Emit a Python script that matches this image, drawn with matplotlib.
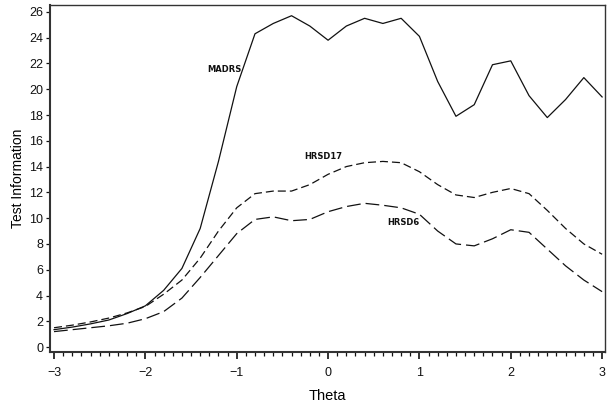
"""
Test information curves for MADRS, HRSD17 and HRSD6 over theta
"""

import numpy as np
import matplotlib.pyplot as plt
from matplotlib.ticker import MultipleLocator

plt.rcParams['font.family'] = ['Liberation Sans', 'DejaVu Sans']

# values, at theta steps of 0.2
theta = [-3.0, -2.8, -2.6, -2.4, -2.2, -2.0, -1.8, -1.6, -1.4, -1.2, -1.0,
         -0.8, -0.6, -0.4, -0.2, 0.0, 0.2, 0.4, 0.6, 0.8, 1.0,
         1.2, 1.4, 1.6, 1.8, 2.0, 2.2, 2.4, 2.6, 2.8, 3.0]

madrs = [1.35, 1.55, 1.8, 2.1, 2.6, 3.2, 4.4, 6.1, 9.2, 14.4, 20.2,
         24.3, 25.1, 25.7, 24.9, 23.8, 24.9, 25.5, 25.1, 25.5, 24.1,
         20.6, 17.9, 18.8, 21.9, 22.2, 19.5, 17.8, 19.2, 20.9, 19.4]

hrsd17 = [1.5, 1.7, 1.95, 2.25, 2.65, 3.15, 4.1, 5.2, 6.9, 9.0, 10.8,
          11.9, 12.1, 12.1, 12.6, 13.4, 14.0, 14.3, 14.4, 14.3, 13.6,
          12.6, 11.8, 11.6, 12.0, 12.3, 11.9, 10.6, 9.2, 8.0, 7.2]

hrsd6 = [1.2, 1.35, 1.5, 1.65, 1.85, 2.2, 2.75, 3.8, 5.4, 7.1, 8.8,
         9.9, 10.1, 9.8, 9.9, 10.5, 10.9, 11.15, 11.0, 10.8, 10.3,
         9.0, 8.0, 7.85, 8.4, 9.1, 8.9, 7.6, 6.3, 5.2, 4.3]

# label positions (theta, information) for the curve names
labels = ['MADRS', 'HRSD17', 'HRSD6']
label_pos = [(-1.14, 21.5), (-0.05, 14.8), (0.82, 9.7)]

fig = plt.figure(figsize=(6.1, 4.08), dpi=100)
ax = fig.add_axes([0.082, 0.137, 0.910, 0.851])

ink = '#111111'
ax.plot(theta, madrs, color=ink, lw=0.9)
ax.plot(theta, hrsd17, color=ink, lw=0.9, dashes=(6.4, 3.2))
ax.plot(theta, hrsd6, color=ink, lw=0.9, dashes=(11, 4))

for name, (tx, ty) in zip(labels, label_pos):
    ax.text(tx, ty, name, fontsize=6, fontweight='bold',
            family='DejaVu Sans', ha='center', va='center', color=ink)

ax.set_xlim(-3.044, 3.033)
ax.set_ylim(-0.39, 26.54)
ax.set_xticks(np.arange(-3, 4, 1))
ax.set_xticklabels(['\u22123', '\u22122', '\u22121', '0', '1', '2', '3'])
ax.xaxis.set_minor_locator(MultipleLocator(0.1))
ax.set_yticks(np.arange(0, 27, 2))

ax.tick_params(axis='x', which='major', direction='out', length=5, width=1.2,
               labelsize=9, pad=6, colors=ink)
ax.tick_params(axis='x', which='minor', direction='out', length=3, width=0.9,
               colors=ink)
ax.tick_params(axis='y', which='major', direction='out', length=3, width=0.9,
               labelsize=9, pad=2, colors=ink)

for side in ax.spines.values():
    side.set_color('#333333')
    side.set_linewidth(1.0)
ax.spines['bottom'].set_linewidth(1.5)
ax.spines['left'].set_linewidth(1.5)

ax.set_xlabel('Theta', fontsize=10.5, labelpad=7)
ax.set_ylabel('Test Information', fontsize=10, labelpad=3)

fig.savefig('out.png', dpi=100)
